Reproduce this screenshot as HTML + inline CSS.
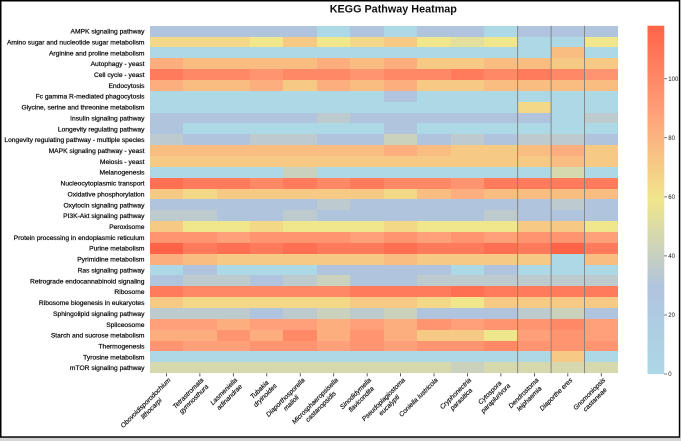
<!DOCTYPE html>
<html><head><meta charset="utf-8">
<style>
html,body{margin:0;padding:0;background:#fff;}
body{width:681px;height:441px;position:relative;overflow:hidden;font-family:"Liberation Sans",Arial,sans-serif;}
#hm{position:absolute;left:149.7px;top:25.7px;width:468.3px;height:347.5px;display:grid;grid-template-columns:repeat(14,1fr);grid-template-rows:repeat(32,1fr);}
#hm i{display:block;}
.a{background:#add8e6}.b{background:#aed4e4}.c{background:#aed0e3}.d{background:#afcce1}.e{background:#afc8e0}
.f{background:#b0c4de}.g{background:#bdcbce}.h{background:#cad2bd}.i{background:#d6d8ad}.j{background:#e3df9c}
.k{background:#f0e68c}.l{background:#f3d888}.m{background:#f6ca85}.n{background:#f9bc81}.o{background:#fcae7e}
.p{background:#ffa07a}.q{background:#ff9470}.r{background:#ff8866}.s{background:#ff7b5b}.t{background:#ff6f51}.u{background:#ff6347}
svg{position:absolute;left:0;top:0;}
.xl{position:absolute;top:376.5px;transform-origin:100% 0;transform:rotate(-45deg);text-align:center;white-space:nowrap;font:italic 6.6px/7.6px "Liberation Sans",Arial,sans-serif;color:#111;-webkit-text-stroke:0.2px #111;}
</style></head><body>
<div id="hm">
<i class="f"></i><i class="f"></i><i class="f"></i><i class="f"></i><i class="f"></i><i class="a"></i><i class="f"></i><i class="a"></i><i class="f"></i><i class="f"></i><i class="a"></i><i class="f"></i><i class="f"></i><i class="f"></i>
<i class="l"></i><i class="l"></i><i class="l"></i><i class="k"></i><i class="m"></i><i class="k"></i><i class="l"></i><i class="m"></i><i class="k"></i><i class="j"></i><i class="k"></i><i class="a"></i><i class="a"></i><i class="k"></i>
<i class="a"></i><i class="a"></i><i class="a"></i><i class="a"></i><i class="a"></i><i class="a"></i><i class="a"></i><i class="a"></i><i class="a"></i><i class="a"></i><i class="a"></i><i class="a"></i><i class="n"></i><i class="a"></i>
<i class="o"></i><i class="n"></i><i class="n"></i><i class="n"></i><i class="n"></i><i class="o"></i><i class="n"></i><i class="o"></i><i class="m"></i><i class="m"></i><i class="n"></i><i class="n"></i><i class="m"></i><i class="m"></i>
<i class="s"></i><i class="r"></i><i class="r"></i><i class="q"></i><i class="r"></i><i class="r"></i><i class="q"></i><i class="r"></i><i class="r"></i><i class="s"></i><i class="r"></i><i class="s"></i><i class="r"></i><i class="q"></i>
<i class="o"></i><i class="n"></i><i class="n"></i><i class="o"></i><i class="m"></i><i class="o"></i><i class="n"></i><i class="o"></i><i class="m"></i><i class="m"></i><i class="n"></i><i class="n"></i><i class="n"></i><i class="n"></i>
<i class="a"></i><i class="a"></i><i class="a"></i><i class="a"></i><i class="a"></i><i class="a"></i><i class="a"></i><i class="f"></i><i class="a"></i><i class="a"></i><i class="a"></i><i class="a"></i><i class="a"></i><i class="a"></i>
<i class="a"></i><i class="a"></i><i class="a"></i><i class="a"></i><i class="a"></i><i class="a"></i><i class="a"></i><i class="a"></i><i class="a"></i><i class="a"></i><i class="a"></i><i class="l"></i><i class="a"></i><i class="a"></i>
<i class="f"></i><i class="f"></i><i class="f"></i><i class="f"></i><i class="f"></i><i class="g"></i><i class="f"></i><i class="f"></i><i class="f"></i><i class="f"></i><i class="f"></i><i class="f"></i><i class="a"></i><i class="g"></i>
<i class="f"></i><i class="a"></i><i class="a"></i><i class="a"></i><i class="a"></i><i class="a"></i><i class="a"></i><i class="f"></i><i class="a"></i><i class="a"></i><i class="a"></i><i class="a"></i><i class="a"></i><i class="a"></i>
<i class="g"></i><i class="f"></i><i class="f"></i><i class="g"></i><i class="g"></i><i class="f"></i><i class="f"></i><i class="h"></i><i class="f"></i><i class="g"></i><i class="f"></i><i class="g"></i><i class="g"></i><i class="f"></i>
<i class="n"></i><i class="n"></i><i class="n"></i><i class="n"></i><i class="n"></i><i class="n"></i><i class="n"></i><i class="o"></i><i class="n"></i><i class="m"></i><i class="m"></i><i class="n"></i><i class="o"></i><i class="m"></i>
<i class="m"></i><i class="m"></i><i class="m"></i><i class="m"></i><i class="m"></i><i class="m"></i><i class="m"></i><i class="m"></i><i class="m"></i><i class="m"></i><i class="m"></i><i class="m"></i><i class="n"></i><i class="m"></i>
<i class="a"></i><i class="a"></i><i class="a"></i><i class="a"></i><i class="h"></i><i class="a"></i><i class="a"></i><i class="a"></i><i class="a"></i><i class="a"></i><i class="a"></i><i class="a"></i><i class="i"></i><i class="a"></i>
<i class="t"></i><i class="s"></i><i class="s"></i><i class="r"></i><i class="s"></i><i class="r"></i><i class="s"></i><i class="r"></i><i class="r"></i><i class="q"></i><i class="s"></i><i class="s"></i><i class="s"></i><i class="s"></i>
<i class="m"></i><i class="l"></i><i class="m"></i><i class="m"></i><i class="m"></i><i class="m"></i><i class="m"></i><i class="l"></i><i class="n"></i><i class="o"></i><i class="n"></i><i class="n"></i><i class="n"></i><i class="n"></i>
<i class="f"></i><i class="f"></i><i class="f"></i><i class="f"></i><i class="f"></i><i class="g"></i><i class="f"></i><i class="f"></i><i class="f"></i><i class="f"></i><i class="f"></i><i class="f"></i><i class="g"></i><i class="f"></i>
<i class="g"></i><i class="g"></i><i class="f"></i><i class="f"></i><i class="g"></i><i class="f"></i><i class="f"></i><i class="f"></i><i class="f"></i><i class="f"></i><i class="g"></i><i class="f"></i><i class="f"></i><i class="f"></i>
<i class="m"></i><i class="k"></i><i class="k"></i><i class="l"></i><i class="k"></i><i class="k"></i><i class="k"></i><i class="l"></i><i class="k"></i><i class="k"></i><i class="k"></i><i class="m"></i><i class="m"></i><i class="k"></i>
<i class="q"></i><i class="q"></i><i class="p"></i><i class="q"></i><i class="q"></i><i class="q"></i><i class="p"></i><i class="q"></i><i class="p"></i><i class="q"></i><i class="p"></i><i class="q"></i><i class="q"></i><i class="p"></i>
<i class="u"></i><i class="s"></i><i class="t"></i><i class="s"></i><i class="t"></i><i class="s"></i><i class="s"></i><i class="t"></i><i class="s"></i><i class="s"></i><i class="t"></i><i class="s"></i><i class="u"></i><i class="s"></i>
<i class="o"></i><i class="n"></i><i class="m"></i><i class="m"></i><i class="m"></i><i class="m"></i><i class="m"></i><i class="n"></i><i class="m"></i><i class="m"></i><i class="m"></i><i class="m"></i><i class="a"></i><i class="n"></i>
<i class="a"></i><i class="f"></i><i class="a"></i><i class="a"></i><i class="a"></i><i class="f"></i><i class="f"></i><i class="f"></i><i class="f"></i><i class="a"></i><i class="f"></i><i class="a"></i><i class="a"></i><i class="a"></i>
<i class="f"></i><i class="g"></i><i class="g"></i><i class="f"></i><i class="g"></i><i class="h"></i><i class="f"></i><i class="f"></i><i class="g"></i><i class="g"></i><i class="g"></i><i class="g"></i><i class="g"></i><i class="g"></i>
<i class="s"></i><i class="r"></i><i class="r"></i><i class="r"></i><i class="r"></i><i class="r"></i><i class="s"></i><i class="s"></i><i class="s"></i><i class="t"></i><i class="s"></i><i class="s"></i><i class="s"></i><i class="s"></i>
<i class="m"></i><i class="l"></i><i class="l"></i><i class="l"></i><i class="l"></i><i class="l"></i><i class="m"></i><i class="m"></i><i class="l"></i><i class="k"></i><i class="m"></i><i class="m"></i><i class="m"></i><i class="m"></i>
<i class="g"></i><i class="g"></i><i class="g"></i><i class="f"></i><i class="g"></i><i class="h"></i><i class="g"></i><i class="h"></i><i class="f"></i><i class="f"></i><i class="f"></i><i class="g"></i><i class="h"></i><i class="f"></i>
<i class="p"></i><i class="p"></i><i class="o"></i><i class="p"></i><i class="p"></i><i class="o"></i><i class="p"></i><i class="o"></i><i class="q"></i><i class="p"></i><i class="q"></i><i class="q"></i><i class="r"></i><i class="p"></i>
<i class="o"></i><i class="o"></i><i class="q"></i><i class="o"></i><i class="r"></i><i class="o"></i><i class="q"></i><i class="o"></i><i class="m"></i><i class="m"></i><i class="k"></i><i class="p"></i><i class="q"></i><i class="p"></i>
<i class="q"></i><i class="p"></i><i class="p"></i><i class="q"></i><i class="q"></i><i class="p"></i><i class="q"></i><i class="p"></i><i class="q"></i><i class="q"></i><i class="r"></i><i class="q"></i><i class="q"></i><i class="q"></i>
<i class="a"></i><i class="a"></i><i class="a"></i><i class="a"></i><i class="a"></i><i class="a"></i><i class="a"></i><i class="a"></i><i class="a"></i><i class="a"></i><i class="a"></i><i class="a"></i><i class="m"></i><i class="a"></i>
<i class="i"></i><i class="i"></i><i class="i"></i><i class="i"></i><i class="i"></i><i class="i"></i><i class="i"></i><i class="i"></i><i class="i"></i><i class="h"></i><i class="i"></i><i class="i"></i><i class="i"></i><i class="i"></i>
</div>
<svg width="681" height="441" viewBox="0 0 681 441" xmlns="http://www.w3.org/2000/svg">
<defs>
<linearGradient id="cb" x1="0" y1="1" x2="0" y2="0">
<stop offset="0" stop-color="#add8e6"/>
<stop offset="0.25" stop-color="#b0c4de"/>
<stop offset="0.5" stop-color="#f0e68c"/>
<stop offset="0.75" stop-color="#ffa07a"/>
<stop offset="1" stop-color="#ff6347"/>
</linearGradient>
</defs>
<text x="393.3" y="12.6" text-anchor="middle" font-family="Liberation Sans, Arial, sans-serif" font-weight="bold" font-size="10.8" fill="#111">KEGG Pathway Heatmap</text>
<g font-family="Liberation Sans, Arial, sans-serif" font-size="6.7" fill="#111" text-anchor="end" stroke="#111" stroke-width="0.25">
<text x="144.5" y="33.53">AMPK signaling pathway</text>
<text x="144.5" y="44.39">Amino sugar and nucleotide sugar metabolism</text>
<text x="144.5" y="55.25">Arginine and proline metabolism</text>
<text x="144.5" y="66.11">Autophagy - yeast</text>
<text x="144.5" y="76.97">Cell cycle - yeast</text>
<text x="144.5" y="87.83">Endocytosis</text>
<text x="144.5" y="98.69">Fc gamma R-mediated phagocytosis</text>
<text x="144.5" y="109.55">Glycine, serine and threonine metabolism</text>
<text x="144.5" y="120.41">Insulin signaling pathway</text>
<text x="144.5" y="131.27">Longevity regulating pathway</text>
<text x="144.5" y="142.13">Longevity regulating pathway - multiple species</text>
<text x="144.5" y="152.99">MAPK signaling pathway - yeast</text>
<text x="144.5" y="163.85">Meiosis - yeast</text>
<text x="144.5" y="174.71">Melanogenesis</text>
<text x="144.5" y="185.57">Nucleocytoplasmic transport</text>
<text x="144.5" y="196.43">Oxidative phosphorylation</text>
<text x="144.5" y="207.29">Oxytocin signaling pathway</text>
<text x="144.5" y="218.15">PI3K-Akt signaling pathway</text>
<text x="144.5" y="229.01">Peroxisome</text>
<text x="144.5" y="239.87">Protein processing in endoplasmic reticulum</text>
<text x="144.5" y="250.73">Purine metabolism</text>
<text x="144.5" y="261.59">Pyrimidine metabolism</text>
<text x="144.5" y="272.45">Ras signaling pathway</text>
<text x="144.5" y="283.31">Retrograde endocannabinoid signaling</text>
<text x="144.5" y="294.17">Ribosome</text>
<text x="144.5" y="305.03">Ribosome biogenesis in eukaryotes</text>
<text x="144.5" y="315.89">Sphingolipid signaling pathway</text>
<text x="144.5" y="326.75">Spliceosome</text>
<text x="144.5" y="337.61">Starch and sucrose metabolism</text>
<text x="144.5" y="348.47">Thermogenesis</text>
<text x="144.5" y="359.33">Tyrosine metabolism</text>
<text x="144.5" y="370.19">mTOR signaling pathway</text>
</g>
<g stroke="#7f7f7f" stroke-width="0.9">
<line x1="517.65" y1="25.7" x2="517.65" y2="373.2"/>
<line x1="551.1" y1="25.7" x2="551.1" y2="373.2"/>
<line x1="584.55" y1="25.7" x2="584.55" y2="373.2"/>
</g>
<g stroke="#333" stroke-width="0.8">
<line x1="166.43" y1="373.2" x2="166.43" y2="376.4"/>
<line x1="199.88" y1="373.2" x2="199.88" y2="376.4"/>
<line x1="233.33" y1="373.2" x2="233.33" y2="376.4"/>
<line x1="266.78" y1="373.2" x2="266.78" y2="376.4"/>
<line x1="300.23" y1="373.2" x2="300.23" y2="376.4"/>
<line x1="333.68" y1="373.2" x2="333.68" y2="376.4"/>
<line x1="367.13" y1="373.2" x2="367.13" y2="376.4"/>
<line x1="400.58" y1="373.2" x2="400.58" y2="376.4"/>
<line x1="434.03" y1="373.2" x2="434.03" y2="376.4"/>
<line x1="467.48" y1="373.2" x2="467.48" y2="376.4"/>
<line x1="500.93" y1="373.2" x2="500.93" y2="376.4"/>
<line x1="534.38" y1="373.2" x2="534.38" y2="376.4"/>
<line x1="567.83" y1="373.2" x2="567.83" y2="376.4"/>
<line x1="601.28" y1="373.2" x2="601.28" y2="376.4"/>
</g>
<rect x="647.5" y="25.7" width="16.8" height="348.3" fill="url(#cb)"/>
<g stroke="#333" stroke-width="0.7">
<line x1="664.3" y1="374" x2="667" y2="374"/>
<line x1="664.3" y1="315" x2="667" y2="315"/>
<line x1="664.3" y1="255.9" x2="667" y2="255.9"/>
<line x1="664.3" y1="196.9" x2="667" y2="196.9"/>
<line x1="664.3" y1="137.8" x2="667" y2="137.8"/>
<line x1="664.3" y1="78.8" x2="667" y2="78.8"/>
</g>
<g font-family="Liberation Sans, Arial, sans-serif" font-size="6" fill="#111">
<text x="668.3" y="376.1">0</text>
<text x="668.3" y="317.1">20</text>
<text x="668.3" y="258">40</text>
<text x="668.3" y="199">60</text>
<text x="668.3" y="139.9">80</text>
<text x="668.3" y="80.9">100</text>
</g>
<rect x="0.75" y="0.75" width="678.8" height="436.3" fill="none" stroke="#000" stroke-width="1.5"/>
<rect x="0" y="438" width="681" height="3" fill="#d4d4d4"/>
</svg>
<div class="xl" style="right:513.57px">Obovoidisporodochium<br>lithocarpi</div>
<div class="xl" style="right:480.12px">Tetrastromata<br>gymnosthura</div>
<div class="xl" style="right:446.67px">Lasmeniella<br>adinandrae</div>
<div class="xl" style="right:413.22px">Tubakia<br>dryinoides</div>
<div class="xl" style="right:379.77px">Diaporthosporella<br>malioli</div>
<div class="xl" style="right:346.32px">Microsphaeropsisella<br>castanopsidis</div>
<div class="xl" style="right:312.87px">Sinodidymella<br>flavicondita</div>
<div class="xl" style="right:279.42px">Pseudoplagiostoma<br>eucalypti</div>
<div class="xl" style="right:245.97px">Coniella lustricola</div>
<div class="xl" style="right:212.52px">Cryphonectria<br>parasitica</div>
<div class="xl" style="right:179.07px">Cytospora<br>paraplurivora</div>
<div class="xl" style="right:145.62px">Dendrostoma<br>leiphaemia</div>
<div class="xl" style="right:112.17px">Diaporthe eres</div>
<div class="xl" style="right:78.72px">Gnomoniopsis<br>castaneae</div>
</body></html>
